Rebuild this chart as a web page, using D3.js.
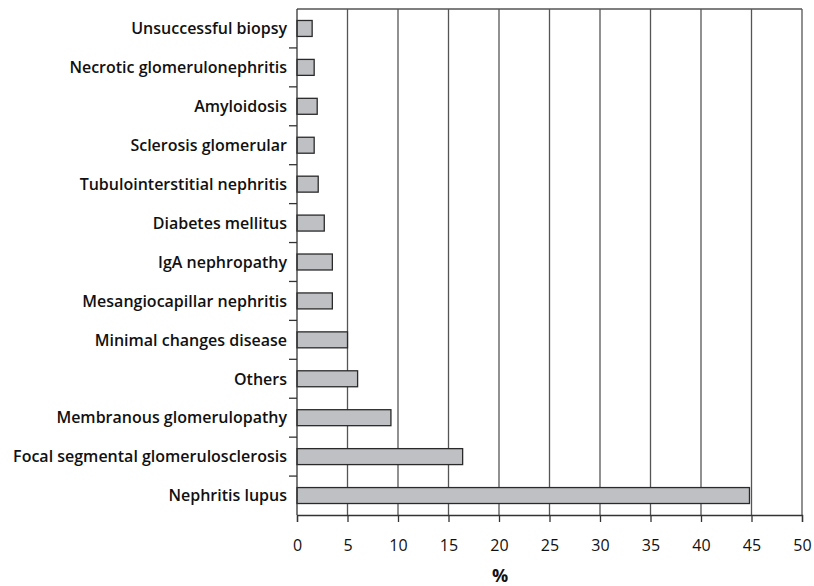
<!DOCTYPE html>
<html><head><meta charset="utf-8">
<script src="https://cdn.jsdelivr.net/npm/d3@7"></script>
<style>body{margin:0;background:#fff}svg{display:block}text{font-family:"Open Sans","Noto Sans",sans-serif;fill:#111}</style>
</head><body><svg id="c" width="814" height="586"></svg>
<script>
const categories = ["Unsuccessful biopsy","Necrotic glomerulonephritis","Amyloidosis","Sclerosis glomerular","Tubulointerstitial nephritis","Diabetes mellitus","IgA nephropathy","Mesangiocapillar nephritis","Minimal changes disease","Others","Membranous glomerulopathy","Focal segmental glomerulosclerosis","Nephritis lupus"];
const values = [1.5,1.7,2.0,1.7,2.1,2.7,3.5,3.5,5.0,6.0,9.3,16.4,44.8];
const xTicks = [0,5,10,15,20,25,30,35,40,45,50];
const xTitle = "%";

const svg = d3.select("#c");
const L=297,R=802,T=9,B=515;
const x = d3.scaleLinear().domain([0,50]).range([L,R]);
const y = d3.scaleBand().domain(categories).range([T,B]).paddingInner(0.59).paddingOuter(0.295);
const yb = d3.scaleBand().domain(categories).range([T,B]);

// grid
svg.append("g").selectAll("line").data(xTicks.slice(1)).join("line")
  .attr("x1",d=>x(d)).attr("x2",d=>x(d)).attr("y1",T).attr("y2",B)
  .attr("stroke","#555").attr("stroke-width",1.3);
svg.append("line").attr("x1",L).attr("x2",R).attr("y1",T).attr("y2",T).attr("stroke","#555").attr("stroke-width",1.3);

// bars
svg.append("g").selectAll("rect").data(categories).join("rect")
  .attr("x",x(0)).attr("y",(d)=>y(d))
  .attr("width",(d,i)=>x(values[i])-x(0)).attr("height",y.bandwidth())
  .attr("fill","#bfc0c4").attr("stroke","#2a2a2a").attr("stroke-width",1.3);

// x axis
const xa = svg.append("g").attr("transform",`translate(0,${B})`)
  .call(d3.axisBottom(x).tickValues(xTicks).tickSize(7).tickPadding(18).tickFormat(d3.format("d")));
xa.select(".domain").attr("stroke","#333").attr("stroke-width",1.3);
xa.selectAll(".tick line").attr("stroke","#333").attr("stroke-width",1.3);
xa.selectAll("text").attr("font-size",16).attr("fill","#222").style("font-family",'"Open Sans","Noto Sans",sans-serif');

// y axis
const ya = svg.append("g").attr("transform",`translate(${L},0)`);
ya.append("line").attr("x1",0).attr("x2",0).attr("y1",T).attr("y2",B).attr("stroke","#333").attr("stroke-width",1.3);
ya.selectAll("line.t").data(categories.slice(1)).join("line").attr("class","t")
  .attr("x1",-8).attr("x2",0).attr("y1",d=>yb(d)).attr("y2",d=>yb(d))
  .attr("stroke","#333").attr("stroke-width",1.3);
ya.selectAll("text").data(categories).join("text")
  .attr("x",-10).attr("y",d=>yb(d)+yb.bandwidth()/2).attr("dy","0.36em")
  .attr("text-anchor","end").attr("font-size",16).attr("font-weight",600).text(d=>d);

svg.append("text").attr("x",500).attr("y",582).attr("text-anchor","middle")
  .attr("font-size",18).attr("font-weight","bold").text(xTitle);
</script></body></html>
